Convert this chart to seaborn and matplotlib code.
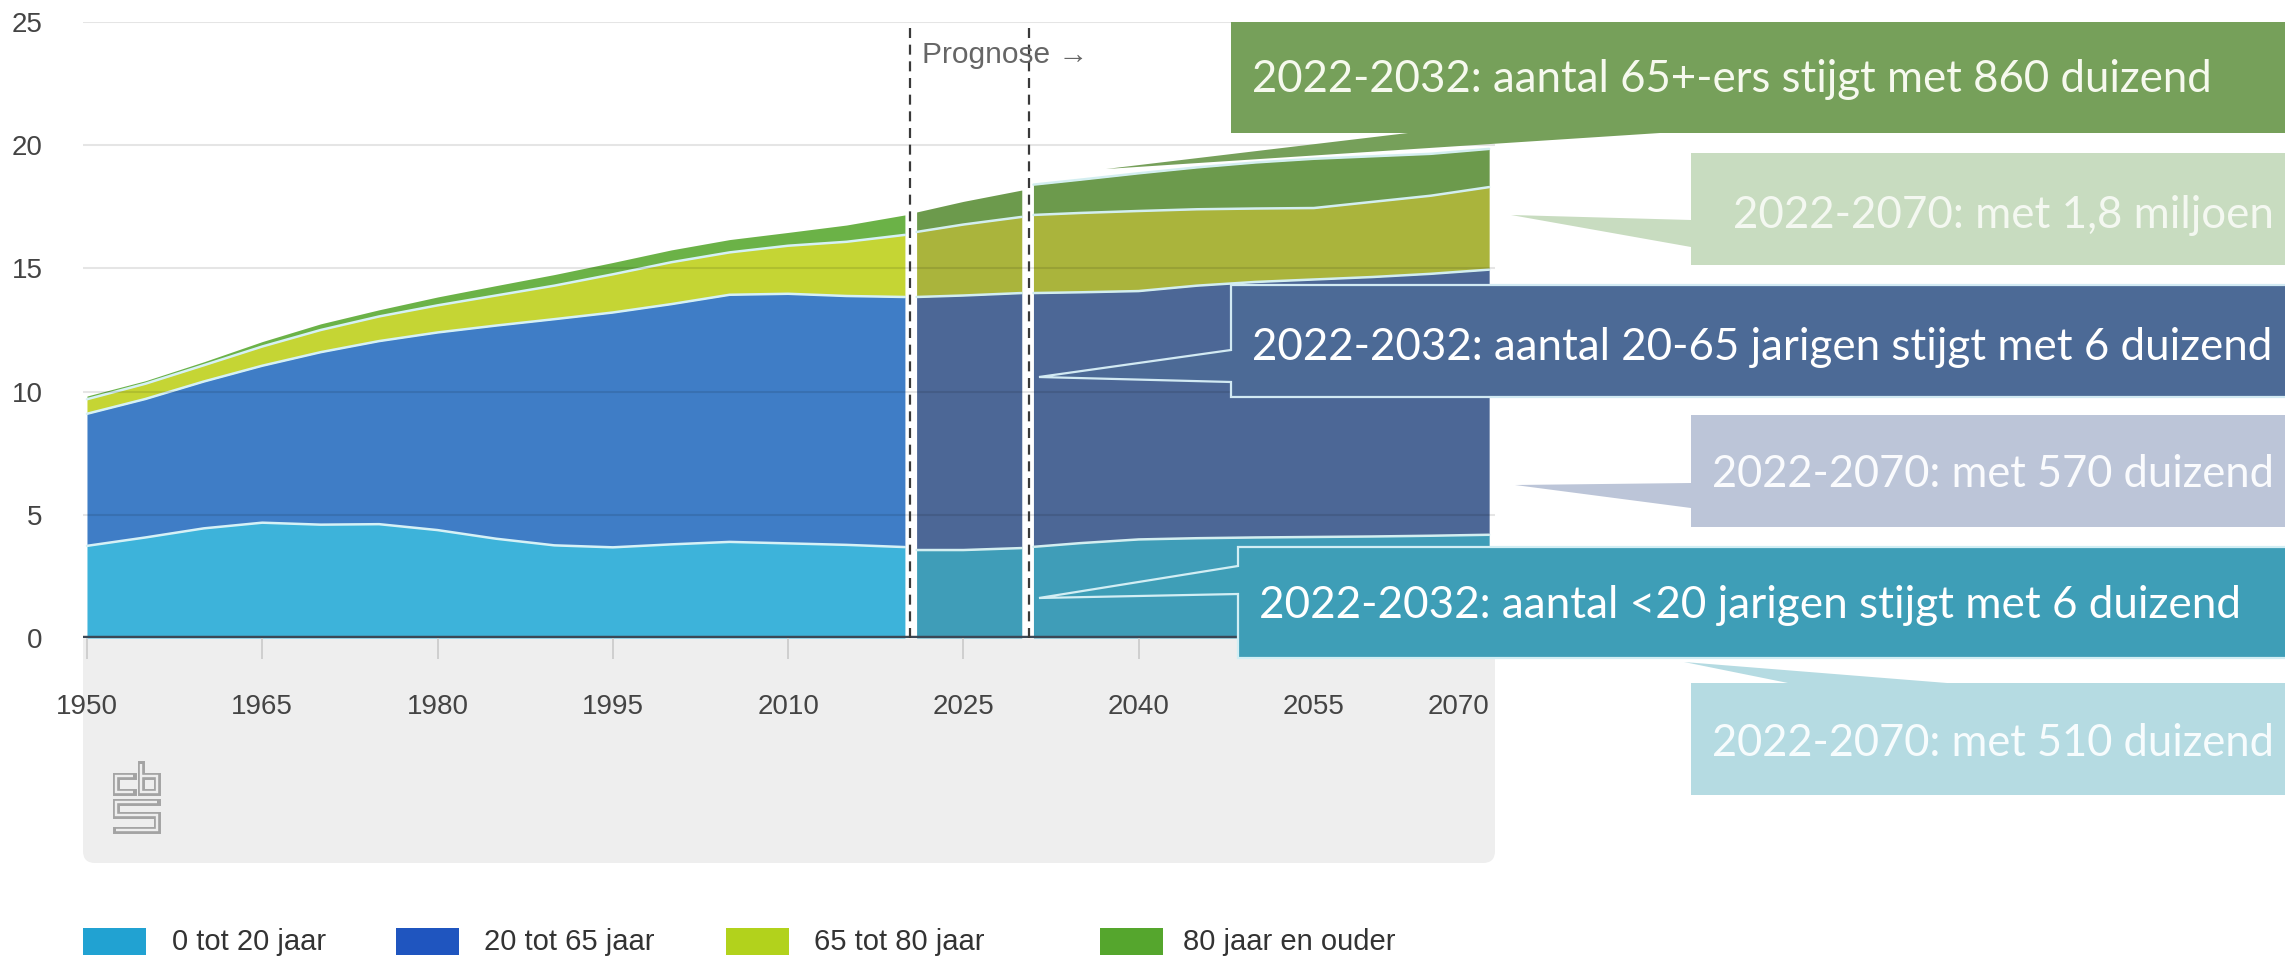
import numpy as np
import matplotlib
matplotlib.use("Agg")
import matplotlib.pyplot as plt
from matplotlib.patches import FancyBboxPatch, Rectangle, Polygon
from matplotlib.lines import Line2D
from matplotlib.transforms import IdentityTransform
import seaborn as sns

# ---------------- data (population in millions) ----------------
years_hist = [1950, 1955, 1960, 1965, 1970, 1975, 1980, 1985, 1990, 1995, 2000, 2005, 2010, 2015, 2020]
hist_0_20 = [3.74, 4.08, 4.45, 4.68, 4.60, 4.62, 4.38, 4.03, 3.76, 3.68, 3.80, 3.90, 3.84, 3.78, 3.69]
hist_20_65 = [5.36, 5.62, 5.96, 6.37, 7.00, 7.43, 8.02, 8.65, 9.18, 9.53, 9.75, 10.03, 10.13, 10.10, 10.15]
hist_65_80 = [0.59, 0.62, 0.66, 0.78, 0.90, 1.00, 1.10, 1.22, 1.36, 1.55, 1.70, 1.72, 1.95, 2.20, 2.52]
hist_80_plus = [0.13, 0.12, 0.14, 0.20, 0.25, 0.27, 0.34, 0.40, 0.45, 0.48, 0.50, 0.52, 0.54, 0.68, 0.81]

years_prog_a = [2021, 2025, 2030]
prog_a_0_20 = [3.57, 3.57, 3.65]
prog_a_20_65 = [10.27, 10.33, 10.35]
prog_a_65_80 = [2.64, 2.88, 3.09]
prog_a_80_plus = [0.81, 0.94, 1.09]

years_prog_b = [2031, 2035, 2040, 2045, 2050, 2055, 2060, 2065, 2070]
prog_b_0_20 = [3.70, 3.85, 4.00, 4.05, 4.08, 4.10, 4.12, 4.15, 4.19]
prog_b_20_65 = [10.30, 10.18, 10.08, 10.25, 10.37, 10.45, 10.53, 10.63, 10.76]
prog_b_65_80 = [3.17, 3.22, 3.25, 3.10, 2.98, 2.90, 3.05, 3.17, 3.35]
prog_b_80_plus = [1.23, 1.35, 1.53, 1.70, 1.87, 2.00, 1.85, 1.70, 1.55]

x_ticks = [1950, 1965, 1980, 1995, 2010, 2025, 2040, 2055, 2070]
y_ticks = [0, 5, 10, 15, 20, 25]
legend_labels = ["0 tot 20 jaar", "20 tot 65 jaar", "65 tot 80 jaar", "80 jaar en ouder"]
prognose_label = "Prognose \u2192"
forecast_start, forecast_mark = 2020.45, 2030.65

callouts = [
    "2022-2032: aantal 65+-ers stijgt met 860 duizend",
    "2022-2070: met 1,8 miljoen",
    "2022-2032: aantal 20-65 jarigen stijgt met 6 duizend",
    "2022-2070: met 570 duizend",
    "2022-2032: aantal <20 jarigen stijgt met 6 duizend",
    "2022-2070: met 510 duizend",
]

# ---------------- styling ----------------
hist_colors = ["#3DB3DA", "#3F7DC6", "#C5D534", "#6BB247"]
prog_colors = ["#3F9DB8", "#4C6796", "#AAB43C", "#6C9A4C"]
legend_colors = ["#21A2D2", "#1F55BF", "#B2D21C", "#55A62D"]

W, H, DPI = 2285, 959, 100

sns.set_theme(style="white")
plt.rcParams["font.family"] = ["Liberation Sans", "DejaVu Sans"]

fig = plt.figure(figsize=(W / DPI, H / DPI), dpi=DPI)
fig.patch.set_facecolor("white")


def fx(px):
    return px / W


def fy(py):
    return 1 - py / H


def dy(py):
    # pixel row measured from the top -> display coordinate from the bottom
    return H - py


ax = fig.add_axes([fx(83), fy(638), fx(1495) - fx(83), fy(22) - fy(638)])
ax.set_facecolor("white")
ax.set_xlim(1949.66, 2070.5)
ax.set_ylim(0, 25)


def draw_piece(years, bands, colors, line_color, top_line):
    ax.stackplot(years, *bands, colors=colors, linewidth=0, zorder=1)
    cum = np.cumsum(np.array(bands), axis=0)
    rows = cum if top_line else cum[:-1]
    for row in rows:
        sns.lineplot(x=years, y=row, ax=ax, color=line_color, linewidth=1.8,
                     zorder=2, legend=False)


draw_piece(years_hist, [hist_0_20, hist_20_65, hist_65_80, hist_80_plus],
           hist_colors, "#D6F1F6", False)
draw_piece(years_prog_a, [prog_a_0_20, prog_a_20_65, prog_a_65_80, prog_a_80_plus],
           prog_colors, "#D3EEF0", False)
draw_piece(years_prog_b, [prog_b_0_20, prog_b_20_65, prog_b_65_80, prog_b_80_plus],
           prog_colors, "#D3EEF0", True)

# grid, axis line, ticks
ax.set_yticks(y_ticks)
ax.set_yticklabels([str(v) for v in y_ticks])
ax.set_xticks(x_ticks)
ax.set_xticklabels([str(v) for v in x_ticks])
ax.grid(axis="y", color="black", alpha=0.1, linewidth=1.5)
ax.grid(axis="x", visible=False)
ax.set_axisbelow(False)
for sp in ax.spines.values():
    sp.set_visible(False)
ax.axhline(0, color="#3B4856", linewidth=3.2, zorder=4)
ax.tick_params(axis="y", length=0, pad=29, labelsize=20, labelcolor="#444444")
ax.tick_params(axis="x", direction="out", length=15, width=1.2, color="#C9C9C9",
               pad=25, labelsize=20, labelcolor="#444444", bottom=True)
last = ax.get_xticklabels()[-1]
last.set_horizontalalignment("right")

# forecast markers
for xv in (forecast_start, forecast_mark):
    ax.axvline(xv, color="#3A3A3A", linewidth=1.6, linestyle=(0, (4.5, 3)), zorder=5)
ax.text(forecast_start + 1.0, 23.65, prognose_label, ha="left", va="center",
        fontsize=21.5, color="#666666", zorder=6)

# grey panel below the axis
panel = FancyBboxPatch((83, dy(863)), 1412, 863 - 610,
                       boxstyle="round,pad=0,rounding_size=12",
                       facecolor="#EEEEEE", edgecolor="none",
                       transform=IdentityTransform(), zorder=-1)
fig.add_artist(panel)

# logo
logo_paths = [
    [(21, 13.5), (3.5, 13.5), (3.5, 29.5), (21, 29.5)],
    [(28.5, 2), (28.5, 29.5), (44.5, 29.5), (44.5, 13.5), (28.5, 13.5)],
    [(44.5, 39.5), (3.5, 39.5), (3.5, 53), (44.5, 53), (44.5, 67.5), (3.5, 67.5)],
]
for path in logo_paths:
    xs = [112 + u for u, v in path]
    ys = [dy(762 + v) for u, v in path]
    fig.add_artist(Line2D(xs, ys, color="#A3A3A3", linewidth=5.0,
                          solid_joinstyle="miter", solid_capstyle="projecting",
                          transform=IdentityTransform(), zorder=1))
    fig.add_artist(Line2D(xs, ys, color="#EEEEEE", linewidth=1.7,
                          solid_joinstyle="miter", solid_capstyle="butt",
                          transform=IdentityTransform(), zorder=1.1))

# legend
legend_x = [(83, 172), (396, 484), (726, 814), (1100, 1183)]
for (sx, tx), lab, col in zip(legend_x, legend_labels, legend_colors):
    fig.add_artist(Rectangle((sx, dy(955)), 63, 27, facecolor=col, edgecolor="none",
                             transform=IdentityTransform(), zorder=2))
    fig.text(fx(tx), fy(942), lab, ha="left", va="center", fontsize=21,
             color="#333333", zorder=3)

# callout shapes (box + pointer), pixel coordinates from the top-left
shapes = [
    ([(1231, 22), (2290, 22), (2290, 133), (1660, 133), (1106, 169), (1408, 133), (1231, 133)],
     "#76A05A", "none"),
    ([(1691, 153), (2290, 153), (2290, 265), (1691, 265), (1691, 247), (1511, 215), (1691, 220)],
     "#C8DCC0", "none"),
    ([(1231, 285), (2290, 285), (2290, 397), (1231, 397), (1231, 382), (1039, 377), (1231, 350)],
     "#4C6A96", "#D2EAF3"),
    ([(1691, 415), (2290, 415), (2290, 527), (1691, 527), (1691, 508), (1515, 485), (1691, 483)],
     "#BCC5D8", "none"),
    ([(1238, 547), (2290, 547), (2290, 658), (1238, 658), (1238, 594), (1039, 598), (1238, 566)],
     "#3E9EB7", "#D2EEF4"),
    ([(1691, 683), (1788, 683), (1684, 662), (1947, 683), (2290, 683), (2290, 795), (1691, 795)],
     "#B5DBE2", "none"),
]
for pts, fc, ec in shapes:
    fig.add_artist(Polygon([(x, dy(y)) for x, y in pts], closed=True, facecolor=fc,
                           edgecolor=ec, linewidth=1.6, joinstyle="miter",
                           transform=IdentityTransform(), zorder=5))

# callout texts, each fitted to its measured width
text_spans = [(1252, 2212, 80, "#F6F9EE"), (1733, 2273, 216, "#F4F8F1"),
              (1252, 2273, 347, "white"), (1712, 2275, 475, "#FAFBFD"),
              (1259, 2241, 606, "white"), (1712, 2275, 743, "#F7FCFD")]
renderer = fig.canvas.get_renderer()
for (x0, x1, yc, col), s in zip(text_spans, callouts):
    t = fig.text(fx(x0), fy(yc), s, ha="left", va="center", fontsize=28,
                 family=["Lato", "DejaVu Sans"], color=col, zorder=7)
    w = t.get_window_extent(renderer).width
    t.set_fontsize(28 * (x1 - x0) / w)

fig.savefig("out.png", dpi=DPI, facecolor="white")
